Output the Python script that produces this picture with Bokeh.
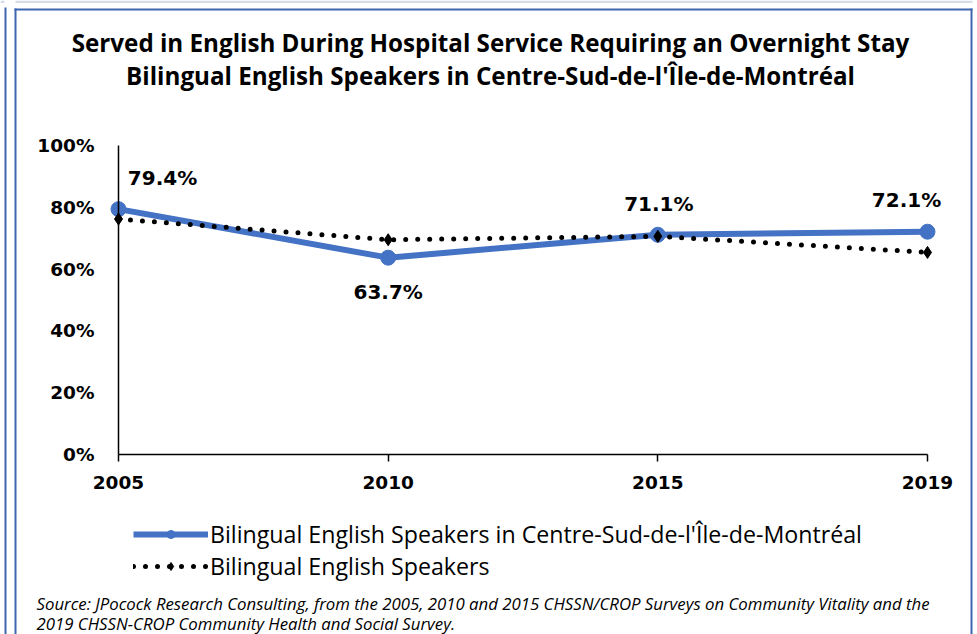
from bokeh.plotting import figure
from bokeh.models import Range1d, Label, Legend, LegendItem, BoxAnnotation, FixedTicker
from bokeh.embed import file_html
from bokeh.resources import INLINE

# ---- data ----
years = ["2005", "2010", "2015", "2019"]
centre_sud = [79.4, 63.7, 71.1, 72.1]      # Bilingual English Speakers in Centre-Sud-de-l'Île-de-Montréal
bilingual = [76.2, 69.5, 70.6, 65.4]        # Bilingual English Speakers
y_ticks = [0, 20, 40, 60, 80, 100]
series_names = ["Bilingual English Speakers in Centre-Sud-de-l'Île-de-Montréal",
                "Bilingual English Speakers"]
title_lines = ["Served in English During Hospital Service Requiring an Overnight Stay",
               "Bilingual English Speakers in Centre-Sud-de-l'Île-de-Montréal"]
source_lines = ["Source: JPocock Research Consulting, from the 2005, 2010  and 2015  CHSSN/CROP Surveys on Community Vitality and the",
                "2019  CHSSN-CROP Community Health and Social Survey."]

# ---- layout (canvas pixels) ----
W, H = 977, 634
X0_PX, X3_PX = 118, 927
Y0_PX, Y100_PX = 454, 145
sx = (X3_PX - X0_PX) / (len(years) - 1)
sy = (Y0_PX - Y100_PX) / 100.0


def dx(px):
    return (px - X0_PX) / sx


def dy(py):
    return (Y0_PX - py) / sy


xs = list(range(len(years)))

p = figure(width=W, height=H, output_backend="svg", toolbar_location=None,
           x_range=Range1d(dx(0), dx(W)), y_range=Range1d(dy(H), dy(0)),
           min_border=0)
p.outline_line_color = None
p.grid.visible = False
p.background_fill_color = "white"
p.border_fill_color = "white"

BLUE = "#4472C4"
FRAME = "#3F66B0"
TICK_FONT = "DejaVu Sans"
TEXT_FONT = "Open Sans"

# axes at data origin
p.xaxis.fixed_location = 0
p.yaxis.fixed_location = 0
p.xaxis.bounds = (0, len(years) - 1)
p.yaxis.bounds = (0, 100)
p.xaxis.ticker = FixedTicker(ticks=xs)
p.xaxis.major_label_overrides = {i: y for i, y in enumerate(years)}
p.yaxis.ticker = FixedTicker(ticks=y_ticks)
p.yaxis.major_label_overrides = {v: f"{v}%" for v in y_ticks}
for ax in (p.xaxis, p.yaxis):
    ax.axis_line_color = "black"
    ax.axis_line_width = 1.5
    ax.major_tick_line_color = "black"
    ax.major_tick_line_width = 1.5
    ax.minor_tick_line_color = None
    ax.major_label_text_font = TICK_FONT
    ax.major_label_text_font_style = "bold"
    ax.major_label_text_font_size = "18.5px"
    ax.major_label_text_color = "black"
p.xaxis.major_tick_in = 0
p.xaxis.major_tick_out = 7
p.xaxis.major_label_standoff = 14
p.yaxis.major_tick_in = 0
p.yaxis.major_tick_out = 0
p.yaxis.major_label_standoff = 24


def strip(l, r, t, b, color):
    p.add_layout(BoxAnnotation(left=dx(l), right=dx(r), top=dy(t), bottom=dy(b),
                               fill_color=color, fill_alpha=1, line_color=None))


# page decorations: top band, outer line and chart frame
strip(0, 4, 0, 2.5, "#D5DCE8")
strip(15, 972, 0, 2.5, "#D5DCE8")
strip(4, 6, 7, H, FRAME)        # outer left line
strip(14, 16, 8, H, FRAME)      # frame left
strip(14, 972, 8, 10, FRAME)    # frame top
strip(970, 972, 8, H, FRAME)    # frame right

# series
r1l = p.line(xs, centre_sud, line_color=BLUE, line_width=6)
r1m = p.scatter(xs, centre_sud, marker="circle", size=15, fill_color=BLUE, line_color=BLUE)
r2l = p.line(xs, bilingual, line_color="black", line_width=5, line_dash="0 12", line_cap="round")
r2m = p.scatter(xs, bilingual, marker="diamond", size=12, fill_color="black", line_color="black")

# data labels
offsets = [(44, 31), (0, -34), (1, 31), (-21, 32)]
for x, v, (ox, oy) in zip(xs, centre_sud, offsets):
    p.add_layout(Label(x=x, y=v, text=f"{v:.1f}%", x_offset=ox, y_offset=oy,
                       text_align="center", text_baseline="middle",
                       text_font=TICK_FONT, text_font_style="bold",
                       text_font_size="20px", text_color="black"))

# title
for i, t in enumerate(title_lines):
    p.add_layout(Label(x=dx(490), y=dy(41.5 + 33 * i), text=t, text_align="center",
                       text_baseline="middle", text_font=TEXT_FONT, text_font_style="bold",
                       text_font_size="24.2px", text_color="black"))

# legend
legend = Legend(items=[LegendItem(label=series_names[0], renderers=[r1l, r1m]),
                       LegendItem(label=series_names[1], renderers=[r2l, r2m])],
                location=(133, 52), orientation="vertical",
                glyph_width=75, glyph_height=20, label_height=30, spacing=0,
                padding=0, margin=0, label_standoff=2,
                label_text_font=TEXT_FONT, label_text_font_size="23.2px",
                label_text_color="black", border_line_color=None,
                background_fill_alpha=0)
p.add_layout(legend)

# source note
for i, t in enumerate(source_lines):
    p.add_layout(Label(x=dx(36), y=dy(603 + 20 * i), text=t, text_align="left",
                       text_baseline="middle", text_font=TEXT_FONT, text_font_style="italic",
                       text_font_size="16.8px", text_color="black"))

open("out.html", "w").write(file_html(p, INLINE))
